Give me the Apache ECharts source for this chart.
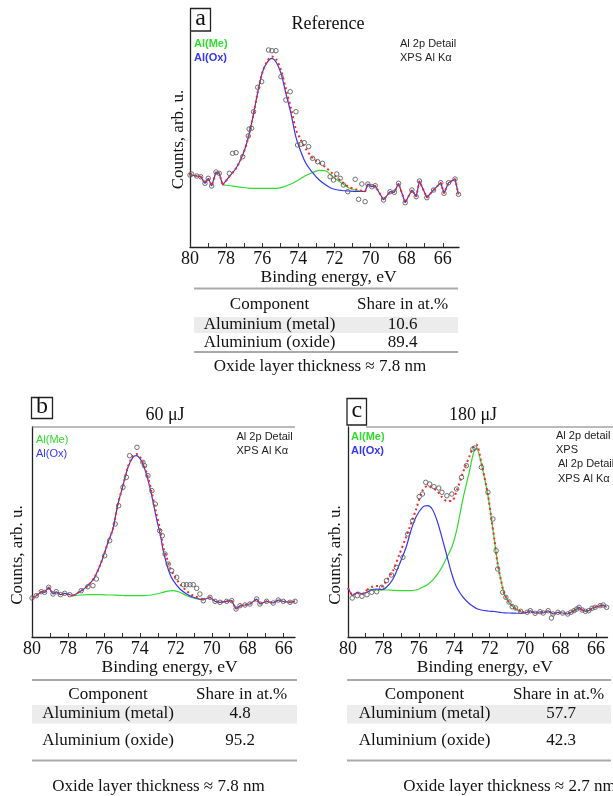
<!DOCTYPE html>
<html><head><meta charset="utf-8">
<script src="https://cdn.jsdelivr.net/npm/echarts@6/dist/echarts.min.js"></script>
<style>html,body{margin:0;padding:0;background:#fff}#c{width:613px;height:796px}</style>
</head><body><div id="c"></div>
<script>
// ---------------- DATA (binding energy in eV, counts in arb. units) ----------------
const xTicks = [80, 78, 76, 74, 72, 70, 68, 66];
const xMinorTicks = [66, 67, 68, 69, 70, 71, 72, 73, 74, 75, 76, 77, 78, 79, 80];
const panelLetters = ['a', 'b', 'c'];
const panelTitles = ['Reference', '60 μJ', '180 μJ'];
const tableHeader = ['Component', 'Share in at.%'];
const rowLabels = ['Aluminium (metal)', 'Aluminium (oxide)'];
const sharesA = [10.6, 89.4];
const sharesB = [4.8, 95.2];
const sharesC = [57.7, 42.3];
const thickness = [7.8, 7.8, 2.7];

// Panel a (Reference)
const aLeftE = [80.0, 79.91, 79.63, 79.41, 79.17, 78.99, 78.80, 78.56, 78.38];
const aLeft = [72, 73, 71, 70.3, 63.7, 68.7, 61, 75, 73.7];
const aFitE = [78.19, 77.83, 77.45, 77.08, 76.81, 76.53, 76.26, 75.98, 75.70, 75.46, 75.24, 74.96, 74.69, 74.41, 74.14, 73.86, 73.58, 73.21, 72.84, 72.47, 72.14, 71.59, 71.22, 70.85, 70.30];
const aOx = [62, 70.3, 78.7, 92, 107, 128.7, 153.7, 175.3, 185.3, 188.7, 185.3, 173.7, 153.7, 133.7, 110.3, 95.3, 83.7, 74.3, 67, 62, 58.5, 56.5, 56, 55.5, 55.5];
const aMe = [62, 61.5, 60.3, 59.5, 59, 58.7, 58.7, 58.7, 58.7, 58.7, 58.7, 59.3, 61, 63, 65.5, 68.5, 71.5, 74.5, 76.7, 76, 71, 63.7, 59.3, 57, 55.3];
const aEnv = [62, 70.3, 78.7, 92, 107, 128.7, 153.7, 175.3, 186.5, 190.5, 188, 177, 158, 139, 118, 107, 98, 89, 84, 79.5, 74, 65.3, 60.3, 57.7, 55.3];
const aRightE = [70.15, 69.93, 69.74, 69.28, 68.92, 68.68, 68.45, 68.08, 67.71, 67.47, 67.29, 66.88, 66.51, 66.11, 65.93, 65.68, 65.32, 65.13];
const aRight = [63, 60.3, 61.3, 47, 55.3, 54.7, 63.7, 44.3, 57, 50.3, 66, 49.3, 57, 64.3, 53.7, 64.3, 68, 52.7];
const aRawE = [77.82, 77.64, 77.45, 77.08, 76.77, 76.72, 76.59, 76.48, 76.25, 76.03, 75.65, 75.46, 75.24, 74.96, 74.69, 74.45, 74.13, 74.04, 73.86, 73.67, 73.43, 73.21, 72.93, 72.66, 72.24, 72.05, 71.87, 71.68, 71.50, 71.26, 70.85, 70.66, 70.48, 70.30];
const aRaw = [73.7, 93.7, 94.3, 90.3, 111, 118, 118.7, 135.3, 159.7, 165.3, 197, 196.3, 196.3, 170.3, 147, 155.3, 135.3, 102, 102.7, 104.3, 100.3, 88.7, 85.3, 83.7, 70.3, 67, 73, 68.7, 62, 55.3, 67.7, 47.7, 63, 45.3];

// Panel b (60 μJ)
const bLeftE = [80.0, 79.76, 79.48, 79.30, 79.07, 78.83, 78.65, 78.42, 78.18, 77.90];
const bLeft = [39, 41.3, 45.3, 44.7, 49.7, 43, 45.3, 42.3, 43.7, 42.3];
const bFitE = [77.72, 77.26, 76.89, 76.52, 76.15, 75.77, 75.50, 75.22, 74.94, 74.66, 74.39, 74.20, 73.92, 73.64, 73.36, 73.09, 72.84, 72.70, 72.51, 72.33, 72.14, 71.77, 71.40, 71.03, 70.47];
const bOx = [41.3, 46.3, 51.3, 59.7, 74.7, 94.7, 108, 133, 151.3, 169.7, 179.7, 181.3, 176.3, 163, 143, 119.7, 100, 86.3, 73, 63, 56.3, 48, 43, 39.7, 37];
const bMe = [41.3, 42, 42.3, 42.3, 42.3, 42, 42, 41.7, 41.5, 41.3, 41.3, 41.3, 41.3, 41.5, 42, 43, 44, 44.7, 45.7, 46.2, 46.3, 44.7, 41.3, 39, 37];
const bEnv = [41.3, 46.3, 51.3, 59.7, 74.7, 94.7, 108, 133, 151.3, 170.5, 181, 183, 178, 165, 146, 124, 105, 89.7, 79.7, 69.7, 63, 53, 46.3, 41.3, 37.7];
const bRightE = [70.10, 69.82, 69.54, 69.17, 68.89, 68.65, 68.43, 68.15, 67.88, 67.50, 67.32, 66.95, 66.58, 66.30, 66.02, 65.65, 65.37];
const bRight = [39.7, 35.7, 34.7, 35.7, 36.3, 28, 31.3, 32, 33, 38, 33, 35.7, 34, 37, 35.7, 34.7, 35.7];
const bRawE = [77.26, 76.89, 76.61, 76.42, 75.96, 75.68, 75.37, 75.18, 74.94, 74.75, 74.57, 74.16, 73.83, 73.74, 73.55, 73.33, 73.14, 72.90, 72.75, 72.60, 72.42, 72.23, 71.95, 71.58, 71.40, 71.21, 71.03, 70.84, 70.66, 70.47];
const bRaw = [46.3, 50.3, 51.3, 58, 81.3, 96.3, 113, 131.3, 149.7, 159.7, 181.3, 189.7, 174.7, 171.3, 161.3, 146.3, 133, 106.3, 101.3, 83, 73, 66.3, 59.7, 52.3, 52.3, 52.3, 52.3, 48.7, 43, 36.3];

// Panel c (180 μJ)
const cLeftE = [80.0, 79.88, 79.76, 79.62, 79.48, 79.35, 79.21, 79.07];
const cLeft = [49, 45, 41.3, 43, 44.7, 44, 43, 44];
const cFitE = [78.93, 78.66, 78.38, 78.10, 77.83, 77.46, 77.09, 76.72, 76.45, 76.17, 75.80, 75.52, 75.25, 74.97, 74.70, 74.42, 74.14, 73.87, 73.50, 73.13, 72.93, 72.76, 72.47, 72.10, 71.92, 71.73, 71.55, 71.36, 71.18, 70.91, 70.54, 70.17];
const cOx = [44.7, 47.3, 48, 47.3, 49.7, 58, 73, 89.7, 106.3, 119.7, 129.7, 131.3, 128, 116.3, 99.7, 81.3, 63, 49.7, 39.7, 33, 30.5, 28.5, 27, 26, 25.7, 25.5, 25, 24.5, 24.2, 24, 23.8, 23.7];
const cMe = [48, 47.3, 47, 47, 47, 46.7, 46.3, 46.3, 46.3, 47, 49.7, 52.3, 56.3, 62.3, 69.7, 79.7, 89.7, 106.3, 139, 167, 183, 189, 173, 141.3, 119.7, 96.3, 73, 56.3, 43, 34.7, 28, 24.7];
const cEnv = [47, 50, 51, 50.5, 56.3, 66.3, 83, 100, 113, 127, 146.3, 151, 149, 146, 140, 136, 136, 146, 165, 181.3, 190, 192.5, 174, 142, 120, 96.5, 73, 56.3, 43.5, 35, 28.5, 25];
const cRightE = [69.89, 69.71, 69.44, 69.16, 68.98, 68.70, 68.43, 68.15, 67.88, 67.60, 67.42, 67.24, 67.09, 66.96, 66.78, 66.60, 66.41, 66.23, 66.05, 65.77, 65.59, 65.40];
const cRight = [24.7, 26.3, 23.7, 25.3, 24, 26.3, 23, 24.7, 24, 23, 24.7, 26.3, 28, 29.7, 27, 25.7, 26.3, 28.7, 29.7, 31.3, 32, 29.7];
const cRawE = [79.76, 79.48, 79.21, 78.93, 78.66, 78.38, 78.10, 77.83, 77.55, 77.27, 76.90, 76.63, 76.35, 75.98, 75.80, 75.61, 75.39, 75.15, 74.88, 74.70, 74.42, 74.14, 73.87, 73.59, 73.32, 72.95, 72.84, 72.47, 72.10, 71.82, 71.64, 71.55, 71.27, 71.09, 70.91, 70.73, 70.54, 70.26, 68.52];
const cRaw = [39, 41.3, 40.7, 42.3, 44.7, 45.3, 49.7, 56.3, 62, 69.7, 79.7, 103, 116.3, 140.3, 143, 154.7, 153, 150.3, 149, 144.7, 141.3, 143, 148, 159.7, 171.3, 188, 189, 169.7, 144.7, 118, 86.3, 68, 44.7, 39.7, 35, 30.3, 29, 25.7, 19];

// ---------------- LAYOUT / STYLE ----------------
const SERIF = '"Liberation Serif","Times New Roman",serif';
const SANS = '"Liberation Sans",Arial,sans-serif';
const BLUE = '#3535f5', GREEN = '#2fdc2f', RED = '#ff2525';

const panels = [
  { left: 190, top: 32, width: 269, height: 215, min: 65.1, ymax: 215, xGap: 19, xShift: 4, yGap: 3, yShift: 0,
    leftE: aLeftE, left_: aLeft, fitE: aFitE, ox: aOx, me: aMe, env: aEnv, rightE: aRightE, right_: aRight,
    raw: [[aLeftE, aLeft], [aRawE, aRaw], [aRightE, aRight]] },
  { left: 32, top: 427, width: 263, height: 210, min: 65.37, ymax: 210, xGap: 20.5, xShift: 6, yGap: 6, yShift: 23,
    leftE: bLeftE, left_: bLeft, fitE: bFitE, ox: bOx, me: bMe, env: bEnv, rightE: bRightE, right_: bRight,
    raw: [[bLeftE, bLeft], [bRawE, bRaw], [bRightE, bRight]] },
  { left: 348, top: 427, width: 265, height: 210, min: 65.35, ymax: 210, xGap: 20.5, xShift: 7, yGap: 4, yShift: 23,
    leftE: cLeftE, left_: cLeft, fitE: cFitE, ox: cOx, me: cMe, env: cEnv, rightE: cRightE, right_: cRight,
    raw: [[cRawE, cRaw], [cRightE, cRight]] }
];

function P(E, V) { return E.map((e, i) => [e, V[i]]); }

const grids = [], xAxes = [], yAxes = [], series = [];
panels.forEach((p, k) => {
  grids.push({ left: p.left, top: p.top, width: p.width, height: p.height, containLabel: false });
  xAxes.push({
    gridIndex: k, type: 'value', inverse: true, min: p.min, max: 80,
    axisLine: { show: true, onZero: false, lineStyle: { color: '#222', width: 1.3 } },
    axisTick: { show: true, inside: true, length: 4, customValues: xMinorTicks, lineStyle: { color: '#333', width: 1 } },
    axisLabel: { customValues: xTicks, margin: 3, fontSize: 18, fontFamily: SERIF, color: '#111', showMaxLabel: true, showMinLabel: true },
    splitLine: { show: false },
    name: 'Binding energy, eV', nameLocation: 'middle', nameGap: p.xGap,
    nameTextStyle: { fontSize: 17.5, fontFamily: SERIF, color: '#111', padding: [0, 0, 0, p.xShift * 2] }
  });
  yAxes.push({
    gridIndex: k, type: 'value', min: 0, max: p.ymax,
    axisLine: { show: true, lineStyle: { color: '#222', width: 1.3 } },
    axisTick: { show: false }, axisLabel: { show: false }, splitLine: { show: false },
    name: 'Counts, arb. u.', nameLocation: 'middle', nameGap: p.yGap,
    nameTextStyle: { fontSize: 17, fontFamily: SERIF, color: '#111', padding: [0, p.yShift * 2, 0, 0] }
  });
  let rawData = [];
  p.raw.forEach(([E, V]) => { rawData = rawData.concat(P(E, V)); });
  series.push({ type: 'scatter', name: 'Measured', xAxisIndex: k, yAxisIndex: k, data: rawData, symbol: 'circle', symbolSize: 4.5,
    itemStyle: { color: 'rgba(255,255,255,0)', borderColor: '#5f5f5f', borderWidth: 0.9, opacity: 1 }, z: 6, silent: true });
  const fitFirst = [p.fitE[0]], fitLast = [p.fitE[p.fitE.length - 1]];
  const segs = [
    { name: 'Al(Me)', data: P(p.fitE, p.me), color: GREEN, smooth: 0.3, z: 3 },
    { name: 'Al(Ox)', data: P(p.fitE, p.ox), color: BLUE, smooth: 0.3, z: 4 },
    { name: 'Al(Ox)', data: P(p.leftE.concat(fitFirst), p.left_.concat([p.ox[0]])), color: BLUE, smooth: false, z: 4 },
    { name: 'Al(Ox)', data: P(fitLast.concat(p.rightE), [p.ox[p.ox.length - 1]].concat(p.right_)), color: BLUE, smooth: false, z: 4 },
    { name: 'Envelope', data: P(p.fitE, p.env), color: RED, smooth: 0.3, z: 5, dash: true },
    { name: 'Envelope', data: P(p.leftE.concat(fitFirst), p.left_.concat([p.env[0]])), color: RED, smooth: false, z: 5, dash: true },
    { name: 'Envelope', data: P(fitLast.concat(p.rightE), [p.env[p.env.length - 1]].concat(p.right_)), color: RED, smooth: false, z: 5, dash: true }
  ];
  segs.forEach(s => series.push({
    type: 'line', name: s.name, xAxisIndex: k, yAxisIndex: k, data: s.data, smooth: s.smooth,
    showSymbol: false, symbol: 'none', silent: true, z: s.z, animation: false,
    lineStyle: s.dash ? { color: s.color, width: 2, type: [2, 3] } : { color: s.color, width: 1.2 }
  }));
});

// ---------------- GRAPHIC (labels, legends, tables) ----------------
const G = [];
function T(x, y, text, o) {
  o = o || {};
  G.push({ type: 'text', x: x, y: y, z: 100, silent: true, style: {
    text: text, fill: o.color || '#111', align: o.align || 'center', verticalAlign: 'middle',
    font: (o.weight || 'normal') + ' ' + (o.size || 17) + 'px ' + (o.family || SERIF) } });
}
function R(x, y, w, h, fill) { G.push({ type: 'rect', z: 90, silent: true, shape: { x: x, y: y, width: w, height: h }, style: { fill: fill } }); }
function Box(x, y, w, h, letter) {
  G.push({ type: 'rect', z: 95, silent: true, shape: { x: x, y: y, width: w, height: h }, style: { fill: '#fff', stroke: '#222', lineWidth: 1.3 } });
  T(x + w / 2, y + h / 2 - 1, letter, { size: 24 });
}
function HLine(x1, x2, y, color, w) { G.push({ type: 'line', z: 95, silent: true, shape: { x1: x1, y1: y, x2: x2, y2: y }, style: { stroke: color, lineWidth: w } }); }

// panel letters & titles
Box(190.5, 8.5, 20, 22.5, panelLetters[0]);
Box(31.5, 397.5, 21, 21, panelLetters[1]);
Box(347, 398.5, 19.5, 26.5, panelLetters[2]);
T(328, 24, panelTitles[0], { size: 18 });
T(165, 415, panelTitles[1], { size: 18 });
T(473, 415, panelTitles[2], { size: 18 });
// top border of plots b and c
HLine(32, 295, 427, '#777', 1);
HLine(366, 613, 427, '#777', 1);

// in-plot legends and annotations
T(194, 43.5, 'Al(Me)', { family: SANS, size: 11, weight: 'bold', color: GREEN, align: 'left' });
T(194, 58, 'Al(Ox)', { family: SANS, size: 11, weight: 'bold', color: BLUE, align: 'left' });
T(400, 43.5, 'Al 2p Detail', { family: SANS, size: 11, color: '#222', align: 'left' });
T(400, 58, 'XPS Al Kα', { family: SANS, size: 11, color: '#222', align: 'left' });

T(36, 440, 'Al(Me)', { family: SANS, size: 11, color: GREEN, align: 'left' });
T(36, 454, 'Al(Ox)', { family: SANS, size: 11, color: BLUE, align: 'left' });
T(236.5, 436.5, 'Al 2p Detail', { family: SANS, size: 11, color: '#222', align: 'left' });
T(236.5, 451, 'XPS Al Kα', { family: SANS, size: 11, color: '#222', align: 'left' });

T(351, 436.5, 'Al(Me)', { family: SANS, size: 11, weight: 'bold', color: GREEN, align: 'left' });
T(351, 451, 'Al(Ox)', { family: SANS, size: 11, weight: 'bold', color: BLUE, align: 'left' });
T(556, 435.5, 'Al 2p detail', { family: SANS, size: 11, color: '#222', align: 'left' });
T(556, 449.5, 'XPS', { family: SANS, size: 11, color: '#222', align: 'left' });
T(558, 464, 'Al 2p Detail', { family: SANS, size: 11, color: '#222', align: 'left' });
T(558, 478.5, 'XPS Al Kα', { family: SANS, size: 11, color: '#222', align: 'left' });

// tables
function Table(t) {
  R(t.x1, t.bandTop, t.x2 - t.x1, t.bandBot - t.bandTop, '#ececec');
  HLine(t.x1, t.x2, t.top, '#aaaaaa', 2);
  HLine(t.x1, t.x2, t.bottom, '#aaaaaa', 2);
  T(t.c1, t.yH, tableHeader[0]);
  T(t.c2, t.yH, tableHeader[1]);
  T(t.c1, t.y1, rowLabels[0]);
  T(t.c2v, t.y1, t.shares[0].toFixed(1));
  T(t.c1, t.y2, rowLabels[1]);
  T(t.c2v, t.y2, t.shares[1].toFixed(1));
  T(t.nx, t.ny, 'Oxide layer thickness ≈ ' + t.th.toFixed(1) + ' nm');
}
Table({ x1: 194, x2: 458, top: 288.5, bottom: 352, bandTop: 317, bandBot: 333, yH: 304.5, y1: 325, y2: 342.5,
  c1: 269.5, c2: 402.5, c2v: 402.5, shares: sharesA, th: thickness[0], nx: 320, ny: 367 });
Table({ x1: 32, x2: 297, top: 680, bottom: 760.5, bandTop: 705, bandBot: 723.5, yH: 695, y1: 714, y2: 740.5,
  c1: 108, c2: 241.5, c2v: 240, shares: sharesB, th: thickness[1], nx: 158.5, ny: 786.5 });
Table({ x1: 347, x2: 611, top: 680, bottom: 760.5, bandTop: 705, bandBot: 723.5, yH: 695, y1: 714, y2: 740.5,
  c1: 424.5, c2: 558.5, c2v: 561, shares: sharesC, th: thickness[2], nx: 509.5, ny: 786.5 });

const chart = echarts.init(document.getElementById('c'), null, { renderer: 'canvas' });
chart.setOption({
  backgroundColor: '#fff', animation: false,
  grid: grids, xAxis: xAxes, yAxis: yAxes, series: series, graphic: G
});
</script></body></html>
